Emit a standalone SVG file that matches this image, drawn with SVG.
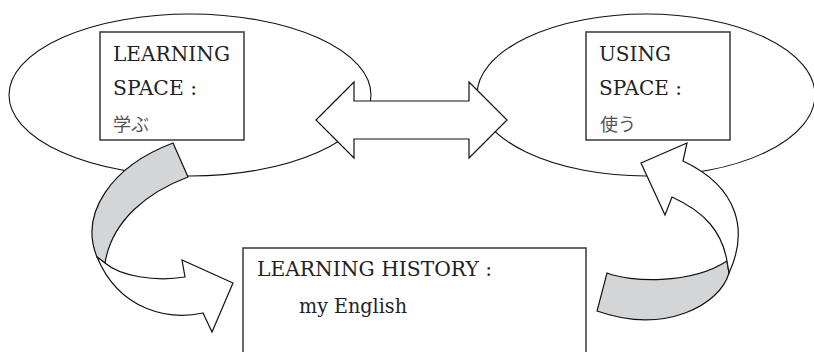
<svg xmlns="http://www.w3.org/2000/svg" width="814" height="352" viewBox="0 0 814 352">
<style>
.ell{fill:#fff;stroke:#111;stroke-width:1.1}
.box{fill:#fff;stroke:#444;stroke-width:1.6}
.arw{fill:#fff;stroke:#111;stroke-width:1.2;stroke-linejoin:miter}
.gry{fill:#d4d5d7;stroke:#111;stroke-width:1.2}
.t{font-family:'DejaVu Serif','Liberation Serif',serif;font-size:20px;fill:#222}
.j{font-family:'Noto Sans CJK JP',sans-serif;font-size:18px;fill:#555}
</style>
<rect width="814" height="352" fill="#fff"/>
<g id="learning-space">
<ellipse class="ell" cx="190" cy="95" rx="181" ry="81"/>
<rect class="box" x="100" y="32" width="144" height="108"/>
<text class="t" x="113" y="61" textLength="117" lengthAdjust="spacingAndGlyphs">LEARNING</text>
<text class="t" x="113" y="95" textLength="84" lengthAdjust="spacingAndGlyphs">SPACE :</text>
<text class="j" x="113" y="131">学ぶ</text>
</g>
<g id="using-space">
<ellipse class="ell" cx="646" cy="95" rx="169" ry="81"/>
<rect class="box" x="586" y="32" width="144" height="108"/>
<text class="t" x="599" y="61" textLength="72" lengthAdjust="spacingAndGlyphs">USING</text>
<text class="t" x="599" y="95" textLength="83" lengthAdjust="spacingAndGlyphs">SPACE :</text>
<text class="j" x="600" y="131">使う</text>
</g>
<g id="learning-history">
<rect class="box" x="243" y="248" width="343" height="130"/>
<text class="t" x="257" y="276" textLength="235" lengthAdjust="spacingAndGlyphs">LEARNING HISTORY :</text>
<text class="t" x="299" y="313" textLength="108" lengthAdjust="spacingAndGlyphs">my English</text>
</g>
<g id="connectors">
<polygon class="arw" points="316,120 354,82 354,101 469,101 469,82 507,120 469,158 469,139 354,139 354,158"/>
<path class="gry" d="M173,143 C112,166 79,213 97,257 L105,263 C112,220 148,192 188,177 Z"/>
<path class="arw" d="M105,263 C120,276 155,282 185,277 L182,260 L233,283 L212,332 L203,313 C170,320 120,312 97,257 Z"/>
<path class="gry" d="M607,273 C630,282 690,285 727,261 L729,273 C720,305 665,335 597,311 Z"/>
<path class="arw" d="M729,273 C748,232 740,188 683,161 L687,143 L641,163 L665,215 L672,197 C705,212 722,232 727,261 Z"/>
</g>
</svg>
